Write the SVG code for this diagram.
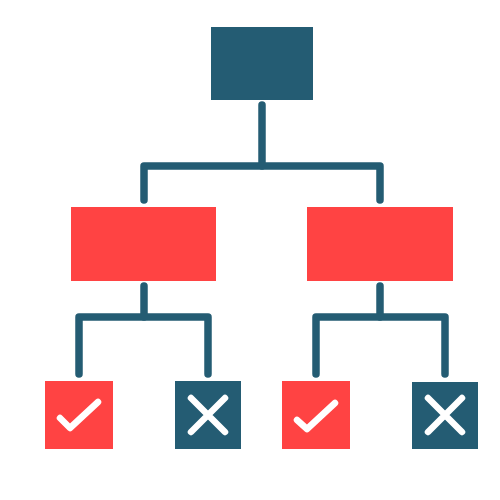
<svg xmlns="http://www.w3.org/2000/svg" width="500" height="500" viewBox="0 0 500 500">
<style>
.dark{fill:#245c73}
.red{fill:#ff4343}
.conn{fill:none;stroke:#245c73;stroke-width:7.5;stroke-linecap:round;stroke-linejoin:round}
.mark{fill:none;stroke:#ffffff;stroke-width:6.5;stroke-linecap:round;stroke-linejoin:round}
</style>
<rect width="500" height="500" fill="#ffffff"/>
<g id="connectors">
<path class="conn" d="M262,105 V166"/>
<path class="conn" d="M144,200 V166 H380 V200"/>
<path class="conn" d="M144,286 V317"/>
<path class="conn" d="M79,374 V317 H208 V374"/>
<path class="conn" d="M380,286 V317"/>
<path class="conn" d="M316,374 V317 H445 V374"/>
</g>
<g id="root"><rect class="dark" x="211" y="27" width="102" height="73"/></g>
<g id="left-branch"><rect class="red" x="71" y="207" width="145" height="74"/></g>
<g id="right-branch"><rect class="red" x="307" y="207" width="146" height="74"/></g>
<g id="left-yes"><rect class="red" x="45" y="381" width="68" height="68"/><path class="mark" d="M60,418 L70,428 L98,402"/></g>
<g id="left-no"><rect class="dark" x="175" y="381" width="66" height="68"/><path class="mark" d="M191,398 L225,432 M225,398 L191,432"/></g>
<g id="right-yes"><rect class="red" x="282" y="381" width="68" height="68"/><path class="mark" d="M297,420 L307,429 L335,403"/></g>
<g id="right-no"><rect class="dark" x="412" y="382" width="66" height="67"/><path class="mark" d="M428,398 L462,432 M462,398 L428,432"/></g>
</svg>
